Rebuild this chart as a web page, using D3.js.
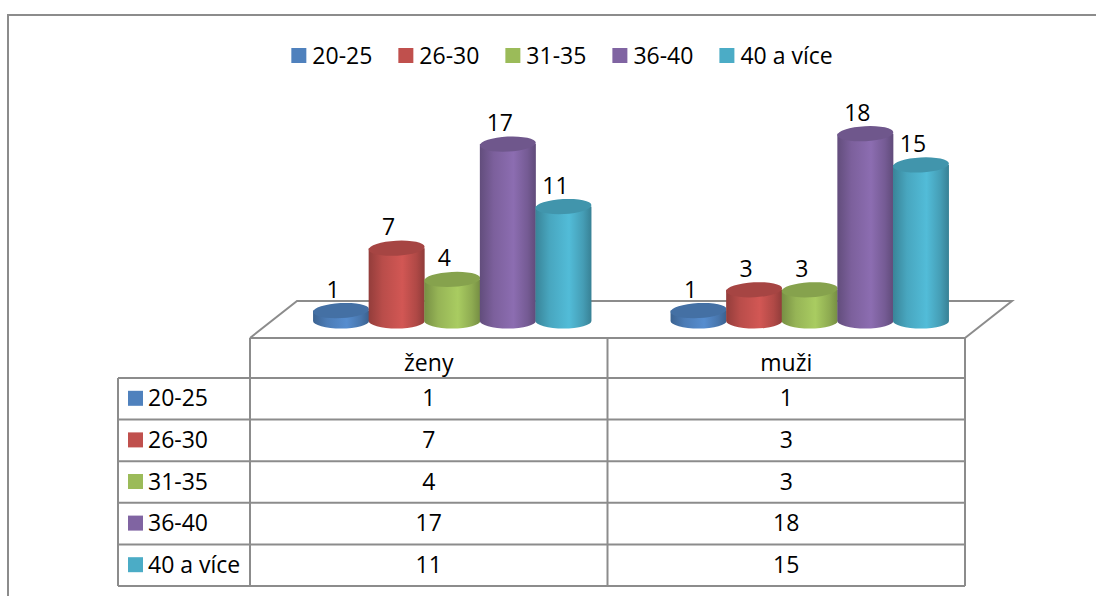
<!DOCTYPE html>
<html>
<head>
<meta charset="utf-8">
<script src="https://cdn.jsdelivr.net/npm/d3@7"></script>
<style>
    html, body { margin: 0; padding: 0; background: #fff; }
    svg { display: block; font-family: "Open Sans", "Liberation Sans", sans-serif; }
</style>
</head>
<body>
<div id="chart"></div>
<script>
// Data
const categories = ["ženy", "muži"];
const seriesNames = ["20-25", "26-30", "31-35", "36-40", "40 a více"];
const zenyValues = [1, 7, 4, 17, 11];
const muziValues = [1, 3, 3, 18, 15];
const seriesColors = ["#4f81bd", "#c0504d", "#9bbb59", "#8064a2", "#4bacc6"];

const W = 1096, H = 596;
const lineColor = "#8c8c8c";
const fontSize = 23;

const valuesByCat = { "ženy": zenyValues, "muži": muziValues };

const svg = d3.select("#chart").append("svg")
    .attr("width", W)
    .attr("height", H);

// Outer chart frame (only top and left visible)
svg.append("path")
    .attr("d", `M8,${H} V15 H${W}`)
    .attr("fill", "none")
    .attr("stroke", lineColor)
    .attr("stroke-width", 2);

// Gradients for the cylinders
const defs = svg.append("defs");
seriesColors.forEach((c, i) => {
    const g = defs.append("linearGradient")
        .attr("id", "cyl" + i)
        .attr("x1", "0%").attr("x2", "100%")
        .attr("y1", "0%").attr("y2", "0%");
    const base = d3.color(c);
    g.append("stop").attr("offset", "0%").attr("stop-color", base.darker(0.75));
    g.append("stop").attr("offset", "25%").attr("stop-color", base.darker(0.1));
    g.append("stop").attr("offset", "60%").attr("stop-color", base.brighter(0.25));
    g.append("stop").attr("offset", "85%").attr("stop-color", base.darker(0.25));
    g.append("stop").attr("offset", "100%").attr("stop-color", base.darker(0.8));
});

// Scales
const x = d3.scaleBand().domain(categories).range([250, 965]);
const rowY = d3.scaleBand().domain(seriesNames).range([378, 586]);
const depthX = 47, depthY = -37;          // floor depth offset
const y = d3.scaleLinear().domain([0, 18]).range([321, 133.7]);
const inner = d3.scaleBand().domain(seriesNames).range([-139, 139]);
const rx = 28, ry = 7.5;

// Floor (3D base)
const floorTop = 338;
svg.append("path")
    .attr("d", `M${x.range()[0]},${floorTop} L${x.range()[0] + depthX},${floorTop + depthY} ` +
               `L${x.range()[1] + depthX},${floorTop + depthY} L${x.range()[1]},${floorTop}`)
    .attr("fill", "none")
    .attr("stroke", lineColor)
    .attr("stroke-width", 2);

// Cylinders
const cyl = [];
categories.forEach(cat => {
    valuesByCat[cat].forEach((v, i) => {
        const cx = x(cat) + x.bandwidth() / 2 + depthX / 2 + inner(seriesNames[i]) + inner.bandwidth() / 2;
        cyl.push({ cat, i, v, cx });
    });
});

const cylG = svg.append("g");
const cg = cylG.selectAll("g").data(cyl).join("g");

cg.append("path")
    .attr("d", d => {
        const x0 = d.cx - rx, x1 = d.cx + rx;
        const yt = y(d.v), yb = y(0);
        return `M${x0},${yt} L${x0},${yb} A${rx},${ry} 0 0 0 ${x1},${yb} L${x1},${yt} Z`;
    })
    .attr("fill", d => `url(#cyl${d.i})`);

cg.append("ellipse")
    .attr("cx", d => d.cx)
    .attr("cy", d => y(d.v))
    .attr("rx", rx)
    .attr("ry", ry)
    .attr("transform", d => `rotate(-3,${d.cx},${y(d.v)})`)
    .attr("fill", d => d3.color(seriesColors[d.i]).darker(0.4));

// Value labels
svg.append("g").selectAll("text")
    .data(cyl)
    .join("text")
    .attr("x", d => d.cx - 8)
    .attr("y", d => y(d.v) - 13)
    .attr("text-anchor", "middle")
    .attr("font-size", fontSize)
    .attr("fill", "#000")
    .text(d => d.v);

// Data table
const table = svg.append("g")
    .attr("stroke", lineColor)
    .attr("stroke-width", 2)
    .attr("fill", "none");

// header row lines
table.append("line")
    .attr("x1", x.range()[0]).attr("x2", x.range()[1])
    .attr("y1", floorTop).attr("y2", floorTop);
// vertical column lines
[x.range()[0], x("muži"), x.range()[1]].forEach(xx => {
    table.append("line")
        .attr("x1", xx).attr("x2", xx)
        .attr("y1", floorTop).attr("y2", rowY.range()[1]);
});
table.append("line")
    .attr("x1", 118).attr("x2", 118)
    .attr("y1", rowY.range()[0]).attr("y2", rowY.range()[1]);
// horizontal row lines
seriesNames.concat(["end"]).forEach((s, k) => {
    const yy = rowY.range()[0] + k * rowY.step();
    table.append("line")
        .attr("x1", 118).attr("x2", x.range()[1])
        .attr("y1", yy).attr("y2", yy);
});

// header text
svg.append("g").selectAll("text")
    .data(categories)
    .join("text")
    .attr("x", d => x(d) + x.bandwidth() / 2)
    .attr("y", 371)
    .attr("text-anchor", "middle")
    .attr("font-size", fontSize)
    .text(d => d);

// row labels with swatches
const rows = svg.append("g").selectAll("g")
    .data(seriesNames)
    .join("g")
    .attr("transform", d => `translate(0,${rowY(d) + rowY.bandwidth() / 2})`);

rows.append("rect")
    .attr("x", 128).attr("y", -8)
    .attr("width", 15).attr("height", 15)
    .attr("fill", (d, i) => seriesColors[i]);

rows.append("text")
    .attr("x", 148)
    .attr("y", 7.5)
    .attr("font-size", fontSize)
    .text(d => d);

categories.forEach(cat => {
    rows.append("text")
        .attr("x", x(cat) + x.bandwidth() / 2)
        .attr("y", 7.5)
        .attr("text-anchor", "middle")
        .attr("font-size", fontSize)
        .text((d, i) => valuesByCat[cat][i]);
});

// Legend at the top
const legend = svg.append("g");
const items = legend.selectAll("g")
    .data(seriesNames)
    .join("g");

items.append("rect")
    .attr("y", 48)
    .attr("width", 15).attr("height", 15)
    .attr("fill", (d, i) => seriesColors[i]);

items.append("text")
    .attr("x", 21)
    .attr("y", 64)
    .attr("font-size", fontSize)
    .text(d => d);

let offset = 0;
const widths = [];
items.each(function () {
    const w = 21 + d3.select(this).select("text").node().getComputedTextLength();
    widths.push(w);
});
const gap = 26;
const total = d3.sum(widths) + gap * (widths.length - 1);
let start = 562 - total / 2;
items.attr("transform", (d, i) => {
    const t = `translate(${start},0)`;
    start += widths[i] + gap;
    return t;
});
</script>
</body>
</html>
